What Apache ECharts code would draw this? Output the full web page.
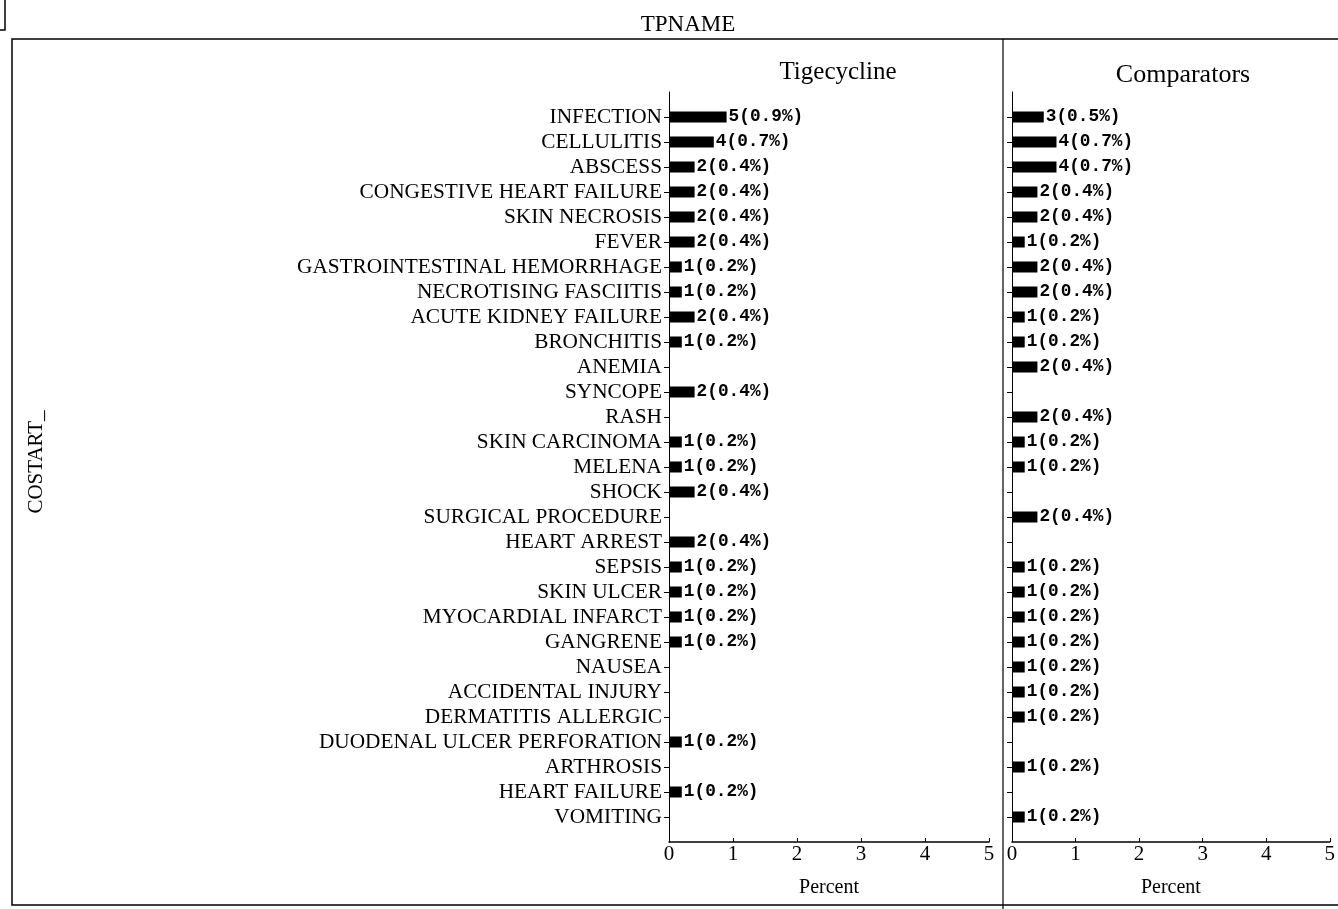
<!DOCTYPE html>
<html>
<head>
<meta charset="utf-8">
<title>TPNAME</title>
<script src="https://cdn.jsdelivr.net/npm/echarts@6/dist/echarts.min.js"></script>
<style>
  html, body { margin: 0; padding: 0; background: #fff; }
  #chart { width: 1338px; height: 909px; }
</style>
</head>
<body>
<div id="chart"></div>
<script>
// Adverse-event terms (COSTART), top to bottom
const categories = [
  'INFECTION', 'CELLULITIS', 'ABSCESS', 'CONGESTIVE HEART FAILURE', 'SKIN NECROSIS',
  'FEVER', 'GASTROINTESTINAL HEMORRHAGE', 'NECROTISING FASCIITIS', 'ACUTE KIDNEY FAILURE',
  'BRONCHITIS', 'ANEMIA', 'SYNCOPE', 'RASH', 'SKIN CARCINOMA', 'MELENA', 'SHOCK',
  'SURGICAL PROCEDURE', 'HEART ARREST', 'SEPSIS', 'SKIN ULCER', 'MYOCARDIAL INFARCT',
  'GANGRENE', 'NAUSEA', 'ACCIDENTAL INJURY', 'DERMATITIS ALLERGIC',
  'DUODENAL ULCER PERFORATION', 'ARTHROSIS', 'HEART FAILURE', 'VOMITING'
];

// Tigecycline: patient counts and percent of patients
const tigCount = [5, 4, 2, 2, 2, 2, 1, 1, 2, 1, null, 2, null, 1, 1, 2, null, 2, 1, 1, 1, 1, null, null, null, 1, null, 1, null];
const tigPct   = [0.9, 0.7, 0.4, 0.4, 0.4, 0.4, 0.2, 0.2, 0.4, 0.2, null, 0.4, null, 0.2, 0.2, 0.4, null, 0.4, 0.2, 0.2, 0.2, 0.2, null, null, null, 0.2, null, 0.2, null];

// Comparators: patient counts and percent of patients
const compCount = [3, 4, 4, 2, 2, 1, 2, 2, 1, 1, 2, null, 2, 1, 1, null, 2, null, 1, 1, 1, 1, 1, 1, 1, null, 1, null, 1];
const compPct   = [0.5, 0.7, 0.7, 0.4, 0.4, 0.2, 0.4, 0.4, 0.2, 0.2, 0.4, null, 0.4, 0.2, 0.2, null, 0.4, null, 0.2, 0.2, 0.2, 0.2, 0.2, 0.2, 0.2, null, 0.2, null, 0.2];

const panelNames = ['Tigecycline', 'Comparators'];
const percentTicks = { min: 0, max: 5, interval: 1 };

const SERIF = '"Liberation Serif", "Times New Roman", serif';
const MONO = '"Liberation Mono", "Courier New", monospace';

// Half-step padding above and below the term list so the axis frame extends past the rows
const axisCats = [''].concat(categories, ['']);
const padded = arr => [null].concat(arr, [null]);

function yAxisFor(gridIndex, showLabels) {
  return {
    type: 'category',
    gridIndex: gridIndex,
    data: axisCats,
    inverse: true,
    boundaryGap: false,
    axisLine: { show: true, lineStyle: { color: '#000', width: 1 } },
    axisTick: {
      show: true, length: 5, inside: false,
      interval: (i, v) => v !== '',
      lineStyle: { color: '#000', width: 1 }
    },
    axisLabel: {
      show: showLabels, interval: 0, margin: 7,
      color: '#000', fontFamily: SERIF, fontSize: 21.3
    },
    splitLine: { show: false }
  };
}

function xAxisFor(gridIndex) {
  return {
    type: 'value',
    gridIndex: gridIndex,
    min: percentTicks.min, max: percentTicks.max, interval: percentTicks.interval,
    name: 'Percent',
    nameLocation: 'middle',
    nameGap: 36,
    nameTextStyle: { color: '#000', fontFamily: SERIF, fontSize: 20 },
    axisLine: { show: true, lineStyle: { color: '#000', width: 1.5 } },
    axisTick: { show: true, inside: true, length: 4, lineStyle: { color: '#000' } },
    axisLabel: { color: '#000', fontFamily: SERIF, fontSize: 21, margin: 2 },
    splitLine: { show: false }
  };
}

function barSeries(idx, pct, counts) {
  return {
    type: 'bar',
    xAxisIndex: idx,
    yAxisIndex: idx,
    data: padded(pct),
    barWidth: 11,
    itemStyle: { color: '#000' },
    label: {
      show: true,
      position: 'right',
      distance: 2,
      color: '#000',
      fontFamily: MONO,
      fontWeight: 'bold',
      fontSize: 17.8,
      formatter: p => counts[p.dataIndex - 1] + '(' + pct[p.dataIndex - 1].toFixed(1) + '%)'
    },
    silent: true,
    animation: false
  };
}

const chart = echarts.init(document.getElementById('chart'), null, { renderer: 'canvas' });

chart.setOption({
  backgroundColor: '#fff',
  animation: false,
  title: [
    { text: 'TPNAME', left: 683, top: 8, textAlign: 'center',
      textStyle: { color: '#000', fontFamily: SERIF, fontSize: 23, fontWeight: 'normal' } },
    { text: panelNames[0], left: 833, top: 55, textAlign: 'center',
      textStyle: { color: '#000', fontFamily: SERIF, fontSize: 25, fontWeight: 'normal' } },
    { text: panelNames[1], left: 1178, top: 57, textAlign: 'center',
      textStyle: { color: '#000', fontFamily: SERIF, fontSize: 26, fontWeight: 'normal' } }
  ],
  grid: [
    { left: 669, top: 92, width: 320, height: 750 },
    { left: 1012, top: 92, width: 325, height: 750 }
  ],
  xAxis: [xAxisFor(0), xAxisFor(1)],
  yAxis: [yAxisFor(0, true), yAxisFor(1, false)],
  series: [
    barSeries(0, tigPct, tigCount),
    barSeries(1, compPct, compCount)
  ],
  graphic: [
    // outer frame
    { type: 'rect', shape: { x: 12, y: 39, width: 1340, height: 866 },
      style: { fill: null, stroke: '#000', lineWidth: 1.5 }, silent: true },
    // divider between the two panels
    { type: 'line', shape: { x1: 1003, y1: 39, x2: 1003, y2: 909 },
      style: { stroke: '#000', lineWidth: 1.2 }, silent: true },
    // corner mark at the top left
    { type: 'polyline', shape: { points: [[5, 0], [5, 30], [0, 30]] },
      style: { fill: null, stroke: '#000', lineWidth: 1.5 }, silent: true },
    // row-axis title
    { type: 'text', x: 36, y: 462, rotation: Math.PI / 2,
      style: { text: 'COSTART_', fill: '#000', font: '21px ' + SERIF,
               textAlign: 'center', textVerticalAlign: 'middle' }, silent: true }
  ]
});
</script>
</body>
</html>
